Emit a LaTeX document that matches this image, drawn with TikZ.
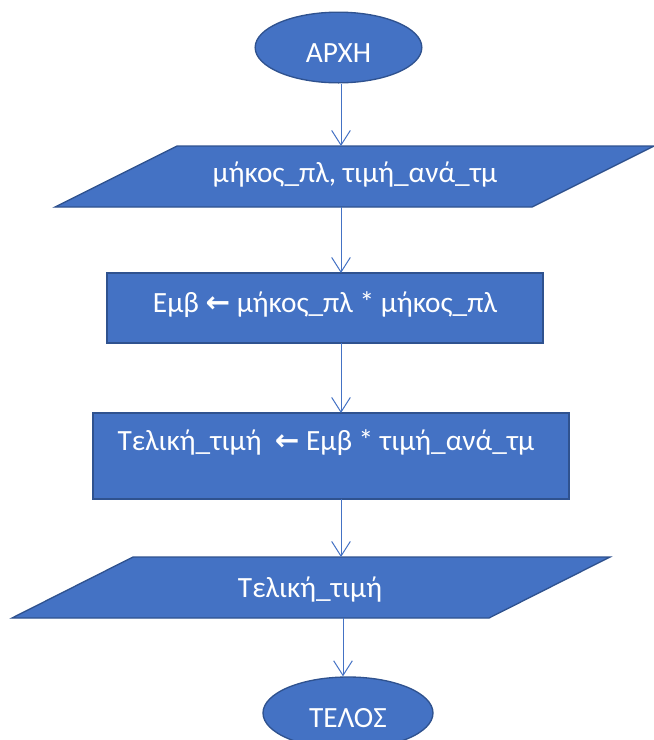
\documentclass[tikz,border=0pt]{standalone}
\usepackage{fontspec}
\setmainfont{Carlito}
\newfontfamily\arrowfont{DejaVu Sans}
\usetikzlibrary{shapes.geometric,arrows.meta}
\definecolor{ofblue}{HTML}{4472C4}
\definecolor{ofedge}{HTML}{2F528F}
\begin{document}
\begin{tikzpicture}[x=0.75pt,y=-0.75pt,
  shp/.style={fill=ofblue,draw=ofedge,line width=1pt},
  txt/.style={text=white,font=\fontsize{22}{26}\selectfont,inner sep=0pt},
  larr/.style={font=\arrowfont\bfseries},
  box/.style={inner sep=0pt,outer sep=0pt},
  arr/.style={draw=ofblue,line width=0.75pt,-{Straight Barb[length=11pt,width=14pt]}}]
\useasboundingbox (0,0) rectangle (654,740);
% start
\node[shp,ellipse,minimum width=125pt,minimum height=53pt] (start) at (338.5,47.5) {};
\node[txt] (startt) at (338.5,53) {ΑΡΧΗ};
% input parallelogram
\node[box,minimum width=449.25pt,minimum height=45.75pt] (p1) at (354.5,176.5) {};
\filldraw[shp] ([xshift=91.5pt]p1.north west) -- (p1.north east) -- ([xshift=-91.5pt]p1.south east) -- (p1.south west) -- cycle;
\node[txt] (p1t) at (355,175) {μήκος\_πλ, τιμή\_ανά\_τμ};
% process 1
\node[shp,box,minimum width=327pt,minimum height=52.5pt] (r1) at (325,308) {};
\node[txt] (r1t) at (325,305) {Εμβ {\arrowfont\bfseries ←} μήκος\_πλ * μήκος\_πλ};
% process 2
\node[shp,box,minimum width=357pt,minimum height=64.5pt] (r2) at (331,456) {};
\node[txt] (r2t) at (326,443) {Τελική\_τιμή\ \ {\arrowfont\bfseries ←} Εμβ * τιμή\_ανά\_τμ};
% output parallelogram
\node[box,minimum width=448.5pt,minimum height=45.75pt] (p2) at (311,587.5) {};
\filldraw[shp] ([xshift=90.75pt]p2.north west) -- (p2.north east) -- ([xshift=-90.75pt]p2.south east) -- (p2.south west) -- cycle;
\node[txt] (p2t) at (310,590) {Τελική\_τιμή};
% end
\node[shp,ellipse,minimum width=127.5pt,minimum height=54pt] (end) at (348,713) {};
\node[txt] (endt) at (348,718) {ΤΕΛΟΣ};
% connectors
\coordinate (ax) at (341,0);
\coordinate (ax2) at (343,0);
\draw[arr] (ax |- start.south) -- (ax |- p1.north);
\draw[arr] (ax |- p1.south) -- (ax |- r1.north);
\draw[arr] (ax |- r1.south) -- (ax |- r2.north);
\draw[arr] (ax |- r2.south) -- (ax |- p2.north);
\draw[arr] (ax2 |- p2.south) -- (ax2 |- end.north);
\end{tikzpicture}
\end{document}
